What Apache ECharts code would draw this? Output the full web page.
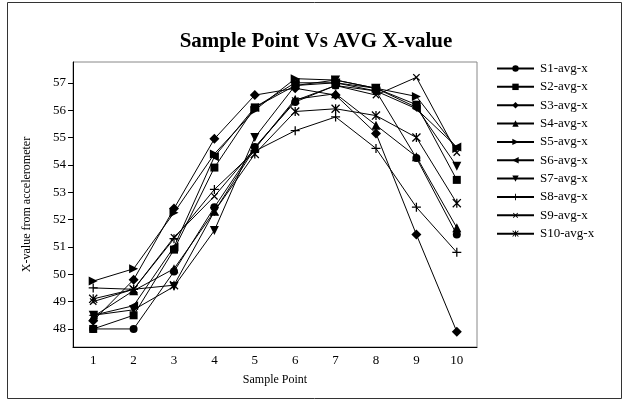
<!DOCTYPE html>
<html>
<head>
<meta charset="utf-8">
<script src="https://cdn.jsdelivr.net/npm/echarts@6/dist/echarts.min.js"></script>
<style>
html, body { margin: 0; padding: 0; background: #fff; }
#chart { width: 627px; height: 404px; }
</style>
</head>
<body>
<div id="chart"></div>
<script>
// data
const samplePoints = ['1', '2', '3', '4', '5', '6', '7', '8', '9', '10'];
const yTicks = [48, 49, 50, 51, 52, 53, 54, 55, 56, 57];

const s1 = [48.0, 48.0, 50.1, 52.45, 54.65, 56.3, 56.9, 56.7, 54.25, 51.45];
const s2 = [48.0, 48.5, 50.9, 53.9, 56.1, 56.9, 57.0, 56.8, 56.2, 53.45];
const s3 = [48.3, 49.8, 52.4, 54.95, 56.55, 56.8, 56.55, 55.15, 51.45, 47.9];
const s4 = [48.45, 49.4, 50.2, 52.3, 54.6, 56.4, 56.6, 55.45, 54.3, 51.7];
const s5 = [49.75, 50.2, 52.25, 54.4, 56.0, 57.15, 57.1, 56.8, 56.5, 54.6];
const s6 = [48.5, 48.85, 51.0, 54.3, 56.1, 57.0, 57.0, 56.7, 56.05, 54.65];
const s7 = [48.5, 48.7, 49.55, 51.6, 55.0, 56.9, 57.1, 56.8, 56.1, 53.95];
const s8 = [49.5, 49.45, 51.3, 53.1, 54.5, 55.25, 55.75, 54.6, 52.45, 50.8];
const s9 = [49.0, 49.45, 51.35, 52.85, 54.6, 56.35, 56.9, 56.55, 57.2, 54.45];
const s10 = [49.1, 49.45, 49.6, 52.3, 54.4, 55.95, 56.05, 55.8, 55.0, 52.6];

const seriesNames = ['S1-avg-x', 'S2-avg-x', 'S3-avg-x', 'S4-avg-x', 'S5-avg-x',
    'S6-avg-x', 'S7-avg-x', 'S8-avg-x', 'S9-avg-x', 'S10-avg-x'];
const seriesData = [s1, s2, s3, s4, s5, s6, s7, s8, s9, s10];

// marker shapes
const plusPath = 'path://M4.3,0h1.4v10h-1.4zM0,4.3h10v1.4h-10z';
const starPath = 'path://M4.3,0h1.4v10h-1.4zM1,0L5,4L9,0L10,1L6,5L10,9L9,10L5,6L1,10L0,9L4,5L0,1z';
const markers = [
    { symbol: 'circle', size: 8, rotate: 0 },
    { symbol: 'rect', size: 8, rotate: 0 },
    { symbol: 'diamond', size: 10, rotate: 0 },
    { symbol: 'triangle', size: 9, rotate: 0 },
    { symbol: 'triangle', size: 9, rotate: -90 },
    { symbol: 'triangle', size: 9, rotate: 90 },
    { symbol: 'triangle', size: 9, rotate: 180 },
    { symbol: plusPath, size: 9, rotate: 0 },
    { symbol: plusPath, size: 9, rotate: 45 },
    { symbol: starPath, size: 9, rotate: 0 }
];

const serif = '"Liberation Serif", "DejaVu Serif", serif';
const chart = echarts.init(document.getElementById('chart'));

let series = [];
for (let i = 0; i < seriesData.length; i++) {
    series.push({
        name: seriesNames[i],
        type: 'line',
        data: seriesData[i],
        symbol: markers[i].symbol,
        symbolSize: markers[i].size,
        symbolRotate: markers[i].rotate,
        showAllSymbol: true,
        animation: false,
        lineStyle: { color: '#000', width: 1 },
        itemStyle: { color: '#000', borderWidth: 0 }
    });
}

const option = {
    backgroundColor: '#fff',
    animation: false,
    title: {
        text: 'Sample Point Vs AVG X-value',
        left: 311,
        textAlign: 'center',
        top: 26,
        textStyle: { fontFamily: serif, fontSize: 21, fontWeight: 'bold', color: '#000' }
    },
    graphic: [{
        type: 'rect',
        shape: { x: 7.5, y: 2.5, width: 614, height: 396 },
        style: { fill: null, stroke: '#333', lineWidth: 1 },
        silent: true
    }],
    legend: {
        orient: 'vertical',
        left: 496,
        top: 62,
        padding: 0,
        itemWidth: 37,
        itemHeight: 8,
        itemGap: 5.35,
        textStyle: { fontFamily: serif, fontSize: 13, color: '#000', padding: [0, 0, 0, 1] },
        data: seriesNames
    },
    grid: {
        left: 73,
        right: 150,
        top: 62,
        bottom: 57,
        show: true,
        borderColor: '#888',
        borderWidth: 1
    },
    xAxis: {
        type: 'category',
        data: samplePoints,
        boundaryGap: true,
        name: 'Sample Point',
        nameLocation: 'middle',
        nameGap: 27,
        nameTextStyle: { fontFamily: serif, fontSize: 12, color: '#000' },
        axisLine: { lineStyle: { color: '#000', width: 1 } },
        axisTick: { alignWithLabel: true, length: 5, lineStyle: { color: '#000' } },
        axisLabel: { fontFamily: serif, fontSize: 13, color: '#000', margin: 7 },
        splitLine: { show: false }
    },
    yAxis: {
        type: 'value',
        min: 47.34,
        max: 57.76,
        name: 'X-value from accelerometer',
        nameLocation: 'middle',
        nameGap: 40,
        nameTextStyle: { fontFamily: serif, fontSize: 12, color: '#000' },
        axisLine: { show: true, lineStyle: { color: '#000', width: 1 } },
        axisTick: { show: true, length: 5, customValues: yTicks, lineStyle: { color: '#000' } },
        axisLabel: { fontFamily: serif, fontSize: 13, color: '#000', margin: 7, customValues: yTicks },
        splitLine: { show: false }
    },
    series: series
};

chart.setOption(option);
</script>
</body>
</html>
